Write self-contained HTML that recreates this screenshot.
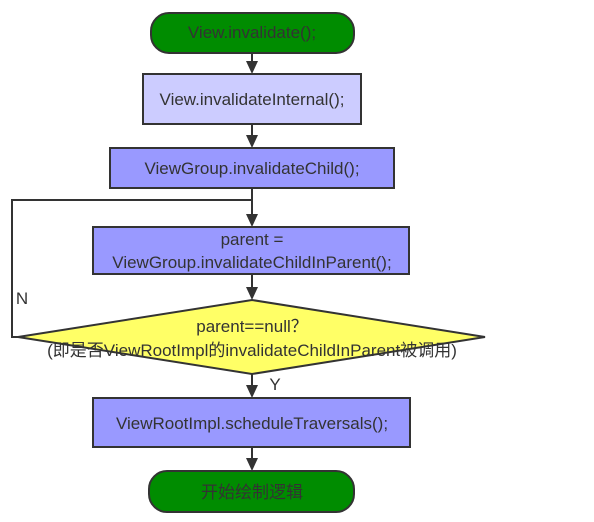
<!DOCTYPE html>
<html><head><meta charset="utf-8"><style>
body{margin:0;background:#fff;}
svg{display:block;font-family:"Liberation Sans","Noto Sans CJK SC",sans-serif;}
</style></head><body>
<svg width="594" height="522" viewBox="0 0 594 522">
<g stroke="#333" stroke-width="2" fill="none">
<line x1="252" y1="53" x2="252" y2="64"/>
<line x1="252" y1="124" x2="252" y2="138"/>
<line x1="252" y1="188" x2="252" y2="217"/>
<line x1="252" y1="274" x2="252" y2="290"/>
<line x1="252" y1="374" x2="252" y2="388"/>
<line x1="252" y1="447" x2="252" y2="461"/>
<polyline points="18,337 12,337 12,200 252,200"/>
</g>
<g fill="#333">
<polygon points="246,61 258,61 252,74"/>
<polygon points="246,135 258,135 252,148"/>
<polygon points="246,214 258,214 252,227"/>
<polygon points="246,287 258,287 252,300"/>
<polygon points="246,385 258,385 252,398"/>
<polygon points="246,458 258,458 252,471"/>
</g>
<g stroke="#333" stroke-width="2">
<rect x="151" y="13" width="203" height="40" rx="18" fill="#008c00"/>
<rect x="143" y="74" width="218" height="50" fill="#ccccff"/>
<rect x="110" y="148" width="284" height="40" fill="#9999ff"/>
<rect x="93" y="227" width="316" height="47" fill="#9999ff"/>
<polygon points="252,300 485,337 252,374 18,337" fill="#ffff66"/>
<rect x="93" y="398" width="317" height="49" fill="#9999ff"/>
<rect x="149" y="471" width="205" height="41" rx="18" fill="#008c00"/>
</g>
<g fill="#333" font-size="17" text-anchor="middle">
<text x="252" y="38">View.invalidate();</text>
<text x="252" y="105">View.invalidateInternal();</text>
<text x="252" y="174">ViewGroup.invalidateChild();</text>
<text x="252" y="245">parent =</text>
<text x="252" y="268">ViewGroup.invalidateChildInParent();</text>
<text x="252" y="332">parent==null？</text>
<text x="252" y="356">(即是否ViewRootImpl的invalidateChildInParent被调用)</text>
<text x="252" y="429">ViewRootImpl.scheduleTraversals();</text>
<text x="252" y="498">开始绘制逻辑</text>
<text x="22" y="304">N</text>
<text x="275" y="390">Y</text>
</g>
</svg>
</body></html>
